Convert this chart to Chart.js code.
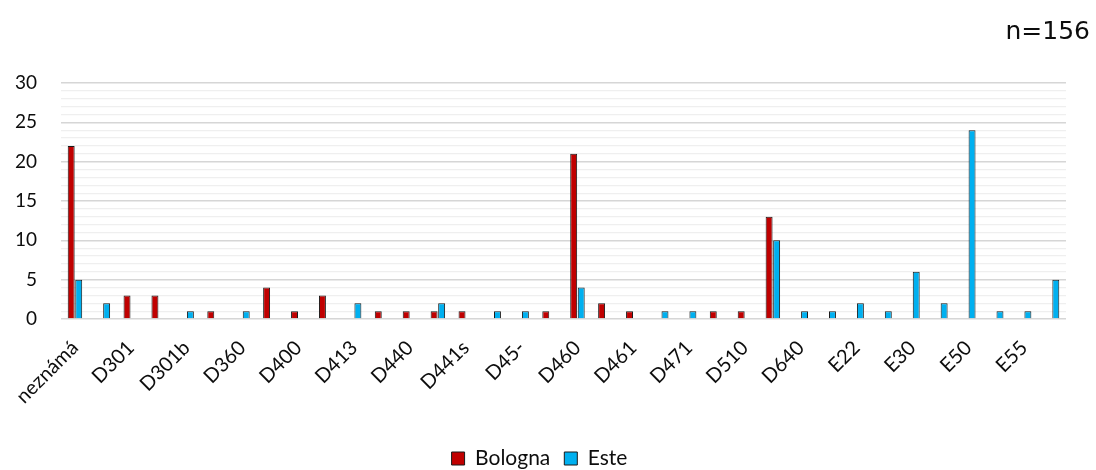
<!DOCTYPE html>
<html><head><meta charset="utf-8">
<script src="https://cdn.jsdelivr.net/npm/chart.js@4.4.1/dist/chart.umd.min.js"></script>
<style>html,body{margin:0;padding:0;background:#fff}#wrap{position:relative;width:1096px;height:470px}</style>
</head><body><div id="wrap"><canvas id="c" width="1096" height="470"></canvas></div>
<script>
// Tick labels visible in the source (every other category is labelled)
const tickLabels = ['neznámá','D301','D301b','D360','D400','D413','D440','D441s','D45-','D460','D461','D471','D510','D640','E22','E30','E50','E55'];
// 36 categories; the unlabelled ones between visible labels are left blank
const categories = tickLabels.flatMap(l => [l, '']);
const bologna = [22,0,3,3,0,1,0,4,1,3, 0,1,1,1,1,0,0,1,21,2, 1,0,0,1,1,13,0,0,0,0, 0,0,0,0,0,0];
const este    = [5,2,0,0,1,0,1,0,0,0, 2,0,0,2,0,1,1,0,4,0, 0,1,1,0,0,10,1,1,2,1, 6,2,24,1,1,5];
const seriesNames = ['Bologna','Este'];
const sampleNote = 'n=156';

const textColor = '#0d0d0d';
const notePlugin = {
  id: 'note',
  afterDraw(chart) {
    const c = chart.ctx;
    c.save();
    c.font = '25px "DejaVu Sans"';
    c.fillStyle = textColor;
    c.textAlign = 'right';
    c.textBaseline = 'alphabetic';
    c.fillText(sampleNote, 1090, 39);
    c.restore();
  }
};

new Chart(document.getElementById('c'), {
  type: 'bar',
  data: {
    labels: categories,
    datasets: [
      {label: seriesNames[0], data: bologna, backgroundColor: '#C00000', borderColor: '#1a1a1a', borderWidth: 1, categoryPercentage: 0.54, barPercentage: 0.92},
      {label: seriesNames[1], data: este, backgroundColor: '#00B0F0', borderColor: '#1a1a1a', borderWidth: 1, categoryPercentage: 0.54, barPercentage: 0.92}
    ]
  },
  options: {
    responsive: false,
    animation: false,
    devicePixelRatio: 1,
    layout: {padding: {top: 83, left: 13, right: 30, bottom: -9}},
    plugins: {
      legend: {
        position: 'bottom',
        labels: {boxWidth: 13, boxHeight: 13, padding: 14, color: textColor, font: {family: 'Lato', size: 21}}
      },
      tooltip: {enabled: false},
      title: {display: false}
    },
    scales: {
      x: {
        grid: {display: false, drawTicks: false},
        border: {display: false},
        ticks: {autoSkip: false, minRotation: 45, maxRotation: 45, padding: 17, color: textColor, font: {family: 'Lato', size: 20}},
        afterFit(s) { s.height = 115; }
      },
      y: {
        min: 0, max: 30,
        grid: {
          drawTicks: false,
          color: ctx => (ctx.tick && ctx.tick.value % 5 === 0) ? '#d6d6d6' : '#efefef',
          lineWidth: ctx => (ctx.tick && ctx.tick.value % 5 === 0) ? 1.5 : 1.2
        },
        border: {display: false},
        ticks: {stepSize: 1, autoSkip: false, maxTicksLimit: 100, padding: 24, color: textColor, font: {family: 'Lato', size: 19},
          callback: v => (v % 5 === 0 ? v : '')},
        afterFit(s) { s.width = 48; }
      }
    }
  },
  plugins: [notePlugin]
});
</script></body></html>
